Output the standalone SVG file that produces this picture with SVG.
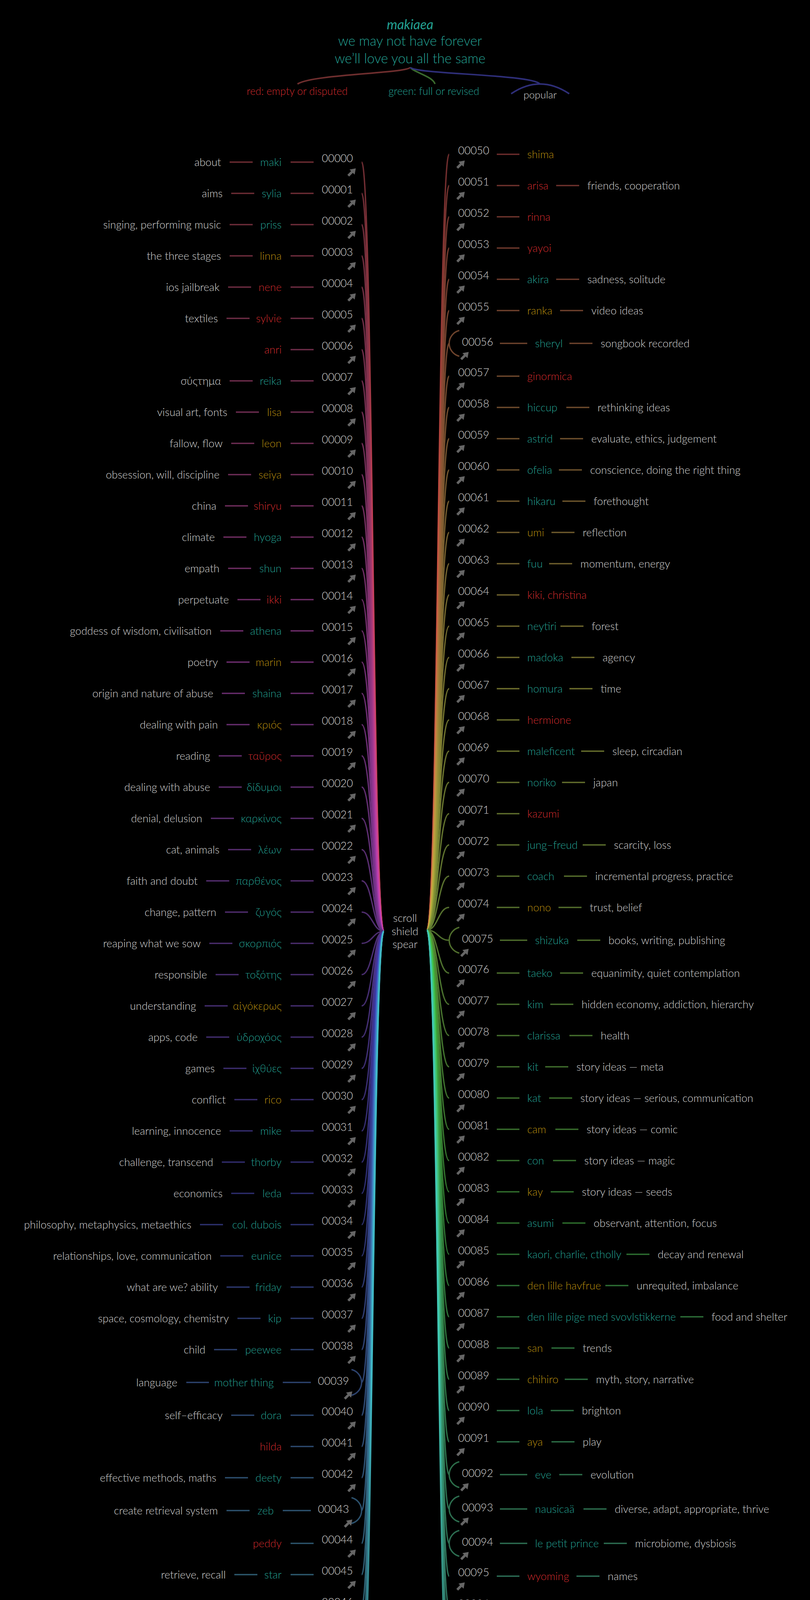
<svg xmlns="http://www.w3.org/2000/svg" xmlns:xlink="http://www.w3.org/1999/xlink" width="2074" height="4856" viewBox="0 0 2074 4856">
<style>
.t{font-family:Lato,"Liberation Sans",sans-serif;font-weight:300;font-size:27.5px}
.num{fill:#d9d9d9}
.desc{fill:#d6d6d6}
.tl{fill:#23a193}
.gd{fill:#b98e0e}
.rd{fill:#d12a2c}
.e{text-anchor:end}
.m{text-anchor:middle}
.dim{fill:#4c5d63}
.cv{fill:none;stroke-width:3.5}
.ds{fill:none;stroke-width:3.5}
.hc{fill:none;stroke-width:4}
.ar{fill:#666}
</style>
<defs>
<symbol id="lnk" viewBox="0 0 24 21"><path class="ar" d="M24 0 L21 16 L16.45 11.45 L7 21 L2.5 16.5 L11.9 6.9 L8 3 Z"/></symbol>
<linearGradient id="a0" gradientUnits="userSpaceOnUse" x1="0" y1="415" x2="0" y2="1215"><stop offset="0" stop-color="hsl(355,42%,30%)"/><stop offset="1" stop-color="hsl(355,55%,52%)"/></linearGradient>
<linearGradient id="a1" gradientUnits="userSpaceOnUse" x1="0" y1="495" x2="0" y2="1295"><stop offset="0" stop-color="hsl(352,42%,30%)"/><stop offset="1" stop-color="hsl(352,55%,52%)"/></linearGradient>
<linearGradient id="a2" gradientUnits="userSpaceOnUse" x1="0" y1="575" x2="0" y2="1375"><stop offset="0" stop-color="hsl(348,42%,30%)"/><stop offset="1" stop-color="hsl(348,55%,52%)"/></linearGradient>
<linearGradient id="a3" gradientUnits="userSpaceOnUse" x1="0" y1="655" x2="0" y2="1455"><stop offset="0" stop-color="hsl(345,42%,30%)"/><stop offset="1" stop-color="hsl(345,55%,52%)"/></linearGradient>
<linearGradient id="a4" gradientUnits="userSpaceOnUse" x1="0" y1="735" x2="0" y2="1535"><stop offset="0" stop-color="hsl(341,42%,30%)"/><stop offset="1" stop-color="hsl(341,55%,52%)"/></linearGradient>
<linearGradient id="a5" gradientUnits="userSpaceOnUse" x1="0" y1="815" x2="0" y2="1615"><stop offset="0" stop-color="hsl(338,42%,30%)"/><stop offset="1" stop-color="hsl(338,55%,52%)"/></linearGradient>
<linearGradient id="a6" gradientUnits="userSpaceOnUse" x1="0" y1="895" x2="0" y2="1695"><stop offset="0" stop-color="hsl(334,42%,30%)"/><stop offset="1" stop-color="hsl(334,55%,52%)"/></linearGradient>
<linearGradient id="a7" gradientUnits="userSpaceOnUse" x1="0" y1="975" x2="0" y2="1775"><stop offset="0" stop-color="hsl(331,42%,30%)"/><stop offset="1" stop-color="hsl(331,55%,52%)"/></linearGradient>
<linearGradient id="a8" gradientUnits="userSpaceOnUse" x1="0" y1="1055" x2="0" y2="1855"><stop offset="0" stop-color="hsl(327,42%,30%)"/><stop offset="1" stop-color="hsl(327,55%,52%)"/></linearGradient>
<linearGradient id="a9" gradientUnits="userSpaceOnUse" x1="0" y1="1135" x2="0" y2="1935"><stop offset="0" stop-color="hsl(324,42%,30%)"/><stop offset="1" stop-color="hsl(324,55%,52%)"/></linearGradient>
<linearGradient id="a10" gradientUnits="userSpaceOnUse" x1="0" y1="1215" x2="0" y2="2015"><stop offset="0" stop-color="hsl(320,42%,30%)"/><stop offset="1" stop-color="hsl(320,55%,52%)"/></linearGradient>
<linearGradient id="a11" gradientUnits="userSpaceOnUse" x1="0" y1="1295" x2="0" y2="2095"><stop offset="0" stop-color="hsl(317,42%,30%)"/><stop offset="1" stop-color="hsl(317,55%,52%)"/></linearGradient>
<linearGradient id="a12" gradientUnits="userSpaceOnUse" x1="0" y1="1375" x2="0" y2="2175"><stop offset="0" stop-color="hsl(313,42%,30%)"/><stop offset="1" stop-color="hsl(313,55%,52%)"/></linearGradient>
<linearGradient id="a13" gradientUnits="userSpaceOnUse" x1="0" y1="1455" x2="0" y2="2255"><stop offset="0" stop-color="hsl(310,42%,30%)"/><stop offset="1" stop-color="hsl(310,55%,52%)"/></linearGradient>
<linearGradient id="a14" gradientUnits="userSpaceOnUse" x1="0" y1="1535" x2="0" y2="2335"><stop offset="0" stop-color="hsl(306,42%,30%)"/><stop offset="1" stop-color="hsl(306,55%,52%)"/></linearGradient>
<linearGradient id="a15" gradientUnits="userSpaceOnUse" x1="0" y1="1615" x2="0" y2="2415"><stop offset="0" stop-color="hsl(303,42%,30%)"/><stop offset="1" stop-color="hsl(303,55%,52%)"/></linearGradient>
<linearGradient id="a16" gradientUnits="userSpaceOnUse" x1="0" y1="1695" x2="0" y2="2495"><stop offset="0" stop-color="hsl(299,42%,30%)"/><stop offset="1" stop-color="hsl(299,55%,52%)"/></linearGradient>
<linearGradient id="a17" gradientUnits="userSpaceOnUse" x1="0" y1="1775" x2="0" y2="2575"><stop offset="0" stop-color="hsl(296,42%,30%)"/><stop offset="1" stop-color="hsl(296,55%,52%)"/></linearGradient>
<linearGradient id="a18" gradientUnits="userSpaceOnUse" x1="0" y1="1855" x2="0" y2="2655"><stop offset="0" stop-color="hsl(293,42%,30%)"/><stop offset="1" stop-color="hsl(293,55%,52%)"/></linearGradient>
<linearGradient id="a19" gradientUnits="userSpaceOnUse" x1="0" y1="1935" x2="0" y2="2735"><stop offset="0" stop-color="hsl(289,42%,30%)"/><stop offset="1" stop-color="hsl(289,55%,52%)"/></linearGradient>
<linearGradient id="a20" gradientUnits="userSpaceOnUse" x1="0" y1="2015" x2="0" y2="2815"><stop offset="0" stop-color="hsl(286,42%,30%)"/><stop offset="1" stop-color="hsl(286,55%,52%)"/></linearGradient>
<linearGradient id="a21" gradientUnits="userSpaceOnUse" x1="0" y1="2095" x2="0" y2="2895"><stop offset="0" stop-color="hsl(282,42%,30%)"/><stop offset="1" stop-color="hsl(282,55%,52%)"/></linearGradient>
<linearGradient id="a22" gradientUnits="userSpaceOnUse" x1="0" y1="2175" x2="0" y2="2975"><stop offset="0" stop-color="hsl(279,42%,30%)"/><stop offset="1" stop-color="hsl(279,55%,52%)"/></linearGradient>
<linearGradient id="a23" gradientUnits="userSpaceOnUse" x1="0" y1="2255" x2="0" y2="3055"><stop offset="0" stop-color="hsl(275,42%,30%)"/><stop offset="1" stop-color="hsl(275,55%,52%)"/></linearGradient>
<linearGradient id="a24" gradientUnits="userSpaceOnUse" x1="0" y1="2335" x2="0" y2="3135"><stop offset="0" stop-color="hsl(272,42%,30%)"/><stop offset="1" stop-color="hsl(272,55%,52%)"/></linearGradient>
<linearGradient id="a25" gradientUnits="userSpaceOnUse" x1="0" y1="2415" x2="0" y2="1615"><stop offset="0" stop-color="hsl(268,42%,30%)"/><stop offset="1" stop-color="hsl(268,55%,52%)"/></linearGradient>
<linearGradient id="a26" gradientUnits="userSpaceOnUse" x1="0" y1="2495" x2="0" y2="1695"><stop offset="0" stop-color="hsl(265,42%,30%)"/><stop offset="1" stop-color="hsl(265,55%,52%)"/></linearGradient>
<linearGradient id="a27" gradientUnits="userSpaceOnUse" x1="0" y1="2575" x2="0" y2="1775"><stop offset="0" stop-color="hsl(261,42%,30%)"/><stop offset="1" stop-color="hsl(261,55%,52%)"/></linearGradient>
<linearGradient id="a28" gradientUnits="userSpaceOnUse" x1="0" y1="2655" x2="0" y2="1855"><stop offset="0" stop-color="hsl(258,42%,30%)"/><stop offset="1" stop-color="hsl(258,55%,52%)"/></linearGradient>
<linearGradient id="a29" gradientUnits="userSpaceOnUse" x1="0" y1="2735" x2="0" y2="1935"><stop offset="0" stop-color="hsl(254,42%,30%)"/><stop offset="1" stop-color="hsl(254,55%,52%)"/></linearGradient>
<linearGradient id="a30" gradientUnits="userSpaceOnUse" x1="0" y1="2815" x2="0" y2="2015"><stop offset="0" stop-color="hsl(251,42%,30%)"/><stop offset="1" stop-color="hsl(251,55%,52%)"/></linearGradient>
<linearGradient id="a31" gradientUnits="userSpaceOnUse" x1="0" y1="2895" x2="0" y2="2095"><stop offset="0" stop-color="hsl(247,42%,30%)"/><stop offset="1" stop-color="hsl(247,55%,52%)"/></linearGradient>
<linearGradient id="a32" gradientUnits="userSpaceOnUse" x1="0" y1="2975" x2="0" y2="2175"><stop offset="0" stop-color="hsl(244,42%,30%)"/><stop offset="1" stop-color="hsl(244,55%,52%)"/></linearGradient>
<linearGradient id="a33" gradientUnits="userSpaceOnUse" x1="0" y1="3055" x2="0" y2="2255"><stop offset="0" stop-color="hsl(240,42%,30%)"/><stop offset="1" stop-color="hsl(240,55%,52%)"/></linearGradient>
<linearGradient id="a34" gradientUnits="userSpaceOnUse" x1="0" y1="3135" x2="0" y2="2335"><stop offset="0" stop-color="hsl(237,42%,30%)"/><stop offset="1" stop-color="hsl(237,55%,52%)"/></linearGradient>
<linearGradient id="a35" gradientUnits="userSpaceOnUse" x1="0" y1="3215" x2="0" y2="2415"><stop offset="0" stop-color="hsl(234,42%,30%)"/><stop offset="1" stop-color="hsl(234,55%,52%)"/></linearGradient>
<linearGradient id="a36" gradientUnits="userSpaceOnUse" x1="0" y1="3295" x2="0" y2="2495"><stop offset="0" stop-color="hsl(230,42%,30%)"/><stop offset="1" stop-color="hsl(230,55%,52%)"/></linearGradient>
<linearGradient id="a37" gradientUnits="userSpaceOnUse" x1="0" y1="3375" x2="0" y2="2575"><stop offset="0" stop-color="hsl(227,42%,30%)"/><stop offset="1" stop-color="hsl(227,55%,52%)"/></linearGradient>
<linearGradient id="a38" gradientUnits="userSpaceOnUse" x1="0" y1="3455" x2="0" y2="2655"><stop offset="0" stop-color="hsl(223,42%,30%)"/><stop offset="1" stop-color="hsl(223,55%,52%)"/></linearGradient>
<linearGradient id="a39" gradientUnits="userSpaceOnUse" x1="0" y1="3539" x2="0" y2="2739"><stop offset="0" stop-color="hsl(220,42%,30%)"/><stop offset="1" stop-color="hsl(220,55%,52%)"/></linearGradient>
<linearGradient id="a40" gradientUnits="userSpaceOnUse" x1="0" y1="3623" x2="0" y2="2823"><stop offset="0" stop-color="hsl(216,42%,30%)"/><stop offset="1" stop-color="hsl(216,55%,52%)"/></linearGradient>
<linearGradient id="a41" gradientUnits="userSpaceOnUse" x1="0" y1="3703" x2="0" y2="2903"><stop offset="0" stop-color="hsl(213,42%,30%)"/><stop offset="1" stop-color="hsl(213,55%,52%)"/></linearGradient>
<linearGradient id="a42" gradientUnits="userSpaceOnUse" x1="0" y1="3783" x2="0" y2="2983"><stop offset="0" stop-color="hsl(209,42%,30%)"/><stop offset="1" stop-color="hsl(209,55%,52%)"/></linearGradient>
<linearGradient id="a43" gradientUnits="userSpaceOnUse" x1="0" y1="3867" x2="0" y2="3067"><stop offset="0" stop-color="hsl(206,42%,30%)"/><stop offset="1" stop-color="hsl(206,55%,52%)"/></linearGradient>
<linearGradient id="a44" gradientUnits="userSpaceOnUse" x1="0" y1="3951" x2="0" y2="3151"><stop offset="0" stop-color="hsl(202,42%,30%)"/><stop offset="1" stop-color="hsl(202,55%,52%)"/></linearGradient>
<linearGradient id="a45" gradientUnits="userSpaceOnUse" x1="0" y1="4031" x2="0" y2="3231"><stop offset="0" stop-color="hsl(199,42%,30%)"/><stop offset="1" stop-color="hsl(199,55%,52%)"/></linearGradient>
<linearGradient id="a46" gradientUnits="userSpaceOnUse" x1="0" y1="4111" x2="0" y2="3311"><stop offset="0" stop-color="hsl(195,42%,30%)"/><stop offset="1" stop-color="hsl(195,55%,52%)"/></linearGradient>
<linearGradient id="a47" gradientUnits="userSpaceOnUse" x1="0" y1="4191" x2="0" y2="3391"><stop offset="0" stop-color="hsl(192,42%,30%)"/><stop offset="1" stop-color="hsl(192,55%,52%)"/></linearGradient>
<linearGradient id="a48" gradientUnits="userSpaceOnUse" x1="0" y1="4271" x2="0" y2="3471"><stop offset="0" stop-color="hsl(188,42%,30%)"/><stop offset="1" stop-color="hsl(188,55%,52%)"/></linearGradient>
<linearGradient id="a49" gradientUnits="userSpaceOnUse" x1="0" y1="4351" x2="0" y2="3551"><stop offset="0" stop-color="hsl(185,42%,30%)"/><stop offset="1" stop-color="hsl(185,55%,52%)"/></linearGradient>
<linearGradient id="b50" gradientUnits="userSpaceOnUse" x1="0" y1="395" x2="0" y2="1195"><stop offset="0" stop-color="hsl(0,42%,30%)"/><stop offset="1" stop-color="hsl(0,55%,52%)"/></linearGradient>
<linearGradient id="b51" gradientUnits="userSpaceOnUse" x1="0" y1="475" x2="0" y2="1275"><stop offset="0" stop-color="hsl(4,42%,30%)"/><stop offset="1" stop-color="hsl(4,55%,52%)"/></linearGradient>
<linearGradient id="b52" gradientUnits="userSpaceOnUse" x1="0" y1="555" x2="0" y2="1355"><stop offset="0" stop-color="hsl(7,42%,30%)"/><stop offset="1" stop-color="hsl(7,55%,52%)"/></linearGradient>
<linearGradient id="b53" gradientUnits="userSpaceOnUse" x1="0" y1="635" x2="0" y2="1435"><stop offset="0" stop-color="hsl(11,42%,30%)"/><stop offset="1" stop-color="hsl(11,55%,52%)"/></linearGradient>
<linearGradient id="b54" gradientUnits="userSpaceOnUse" x1="0" y1="715" x2="0" y2="1515"><stop offset="0" stop-color="hsl(14,42%,30%)"/><stop offset="1" stop-color="hsl(14,55%,52%)"/></linearGradient>
<linearGradient id="b55" gradientUnits="userSpaceOnUse" x1="0" y1="795" x2="0" y2="1595"><stop offset="0" stop-color="hsl(18,42%,30%)"/><stop offset="1" stop-color="hsl(18,55%,52%)"/></linearGradient>
<linearGradient id="b56" gradientUnits="userSpaceOnUse" x1="0" y1="879" x2="0" y2="1679"><stop offset="0" stop-color="hsl(21,42%,30%)"/><stop offset="1" stop-color="hsl(21,55%,52%)"/></linearGradient>
<linearGradient id="b57" gradientUnits="userSpaceOnUse" x1="0" y1="963" x2="0" y2="1763"><stop offset="0" stop-color="hsl(25,42%,30%)"/><stop offset="1" stop-color="hsl(25,55%,52%)"/></linearGradient>
<linearGradient id="b58" gradientUnits="userSpaceOnUse" x1="0" y1="1043" x2="0" y2="1843"><stop offset="0" stop-color="hsl(28,42%,30%)"/><stop offset="1" stop-color="hsl(28,55%,52%)"/></linearGradient>
<linearGradient id="b59" gradientUnits="userSpaceOnUse" x1="0" y1="1123" x2="0" y2="1923"><stop offset="0" stop-color="hsl(32,42%,30%)"/><stop offset="1" stop-color="hsl(32,55%,52%)"/></linearGradient>
<linearGradient id="b60" gradientUnits="userSpaceOnUse" x1="0" y1="1203" x2="0" y2="2003"><stop offset="0" stop-color="hsl(35,42%,30%)"/><stop offset="1" stop-color="hsl(35,55%,52%)"/></linearGradient>
<linearGradient id="b61" gradientUnits="userSpaceOnUse" x1="0" y1="1283" x2="0" y2="2083"><stop offset="0" stop-color="hsl(39,42%,30%)"/><stop offset="1" stop-color="hsl(39,55%,52%)"/></linearGradient>
<linearGradient id="b62" gradientUnits="userSpaceOnUse" x1="0" y1="1363" x2="0" y2="2163"><stop offset="0" stop-color="hsl(42,42%,30%)"/><stop offset="1" stop-color="hsl(42,55%,52%)"/></linearGradient>
<linearGradient id="b63" gradientUnits="userSpaceOnUse" x1="0" y1="1443" x2="0" y2="2243"><stop offset="0" stop-color="hsl(46,42%,30%)"/><stop offset="1" stop-color="hsl(46,55%,52%)"/></linearGradient>
<linearGradient id="b64" gradientUnits="userSpaceOnUse" x1="0" y1="1523" x2="0" y2="2323"><stop offset="0" stop-color="hsl(49,42%,30%)"/><stop offset="1" stop-color="hsl(49,55%,52%)"/></linearGradient>
<linearGradient id="b65" gradientUnits="userSpaceOnUse" x1="0" y1="1603" x2="0" y2="2403"><stop offset="0" stop-color="hsl(53,42%,30%)"/><stop offset="1" stop-color="hsl(53,55%,52%)"/></linearGradient>
<linearGradient id="b66" gradientUnits="userSpaceOnUse" x1="0" y1="1683" x2="0" y2="2483"><stop offset="0" stop-color="hsl(56,42%,30%)"/><stop offset="1" stop-color="hsl(56,55%,52%)"/></linearGradient>
<linearGradient id="b67" gradientUnits="userSpaceOnUse" x1="0" y1="1763" x2="0" y2="2563"><stop offset="0" stop-color="hsl(60,42%,30%)"/><stop offset="1" stop-color="hsl(60,55%,52%)"/></linearGradient>
<linearGradient id="b68" gradientUnits="userSpaceOnUse" x1="0" y1="1843" x2="0" y2="2643"><stop offset="0" stop-color="hsl(63,42%,30%)"/><stop offset="1" stop-color="hsl(63,55%,52%)"/></linearGradient>
<linearGradient id="b69" gradientUnits="userSpaceOnUse" x1="0" y1="1923" x2="0" y2="2723"><stop offset="0" stop-color="hsl(67,42%,30%)"/><stop offset="1" stop-color="hsl(67,55%,52%)"/></linearGradient>
<linearGradient id="b70" gradientUnits="userSpaceOnUse" x1="0" y1="2003" x2="0" y2="2803"><stop offset="0" stop-color="hsl(70,42%,30%)"/><stop offset="1" stop-color="hsl(70,55%,52%)"/></linearGradient>
<linearGradient id="b71" gradientUnits="userSpaceOnUse" x1="0" y1="2083" x2="0" y2="2883"><stop offset="0" stop-color="hsl(74,42%,30%)"/><stop offset="1" stop-color="hsl(74,55%,52%)"/></linearGradient>
<linearGradient id="b72" gradientUnits="userSpaceOnUse" x1="0" y1="2163" x2="0" y2="2963"><stop offset="0" stop-color="hsl(77,42%,30%)"/><stop offset="1" stop-color="hsl(77,55%,52%)"/></linearGradient>
<linearGradient id="b73" gradientUnits="userSpaceOnUse" x1="0" y1="2243" x2="0" y2="3043"><stop offset="0" stop-color="hsl(81,42%,30%)"/><stop offset="1" stop-color="hsl(81,55%,52%)"/></linearGradient>
<linearGradient id="b74" gradientUnits="userSpaceOnUse" x1="0" y1="2323" x2="0" y2="3123"><stop offset="0" stop-color="hsl(84,42%,30%)"/><stop offset="1" stop-color="hsl(84,55%,52%)"/></linearGradient>
<linearGradient id="b75" gradientUnits="userSpaceOnUse" x1="0" y1="2407" x2="0" y2="1607"><stop offset="0" stop-color="hsl(88,42%,30%)"/><stop offset="1" stop-color="hsl(88,55%,52%)"/></linearGradient>
<linearGradient id="b76" gradientUnits="userSpaceOnUse" x1="0" y1="2491" x2="0" y2="1691"><stop offset="0" stop-color="hsl(91,42%,30%)"/><stop offset="1" stop-color="hsl(91,55%,52%)"/></linearGradient>
<linearGradient id="b77" gradientUnits="userSpaceOnUse" x1="0" y1="2571" x2="0" y2="1771"><stop offset="0" stop-color="hsl(95,42%,30%)"/><stop offset="1" stop-color="hsl(95,55%,52%)"/></linearGradient>
<linearGradient id="b78" gradientUnits="userSpaceOnUse" x1="0" y1="2651" x2="0" y2="1851"><stop offset="0" stop-color="hsl(98,42%,30%)"/><stop offset="1" stop-color="hsl(98,55%,52%)"/></linearGradient>
<linearGradient id="b79" gradientUnits="userSpaceOnUse" x1="0" y1="2731" x2="0" y2="1931"><stop offset="0" stop-color="hsl(102,42%,30%)"/><stop offset="1" stop-color="hsl(102,55%,52%)"/></linearGradient>
<linearGradient id="b80" gradientUnits="userSpaceOnUse" x1="0" y1="2811" x2="0" y2="2011"><stop offset="0" stop-color="hsl(105,42%,30%)"/><stop offset="1" stop-color="hsl(105,55%,52%)"/></linearGradient>
<linearGradient id="b81" gradientUnits="userSpaceOnUse" x1="0" y1="2891" x2="0" y2="2091"><stop offset="0" stop-color="hsl(109,42%,30%)"/><stop offset="1" stop-color="hsl(109,55%,52%)"/></linearGradient>
<linearGradient id="b82" gradientUnits="userSpaceOnUse" x1="0" y1="2971" x2="0" y2="2171"><stop offset="0" stop-color="hsl(112,42%,30%)"/><stop offset="1" stop-color="hsl(112,55%,52%)"/></linearGradient>
<linearGradient id="b83" gradientUnits="userSpaceOnUse" x1="0" y1="3051" x2="0" y2="2251"><stop offset="0" stop-color="hsl(116,42%,30%)"/><stop offset="1" stop-color="hsl(116,55%,52%)"/></linearGradient>
<linearGradient id="b84" gradientUnits="userSpaceOnUse" x1="0" y1="3131" x2="0" y2="2331"><stop offset="0" stop-color="hsl(119,42%,30%)"/><stop offset="1" stop-color="hsl(119,55%,52%)"/></linearGradient>
<linearGradient id="b85" gradientUnits="userSpaceOnUse" x1="0" y1="3211" x2="0" y2="2411"><stop offset="0" stop-color="hsl(123,42%,30%)"/><stop offset="1" stop-color="hsl(123,55%,52%)"/></linearGradient>
<linearGradient id="b86" gradientUnits="userSpaceOnUse" x1="0" y1="3291" x2="0" y2="2491"><stop offset="0" stop-color="hsl(126,42%,30%)"/><stop offset="1" stop-color="hsl(126,55%,52%)"/></linearGradient>
<linearGradient id="b87" gradientUnits="userSpaceOnUse" x1="0" y1="3371" x2="0" y2="2571"><stop offset="0" stop-color="hsl(130,42%,30%)"/><stop offset="1" stop-color="hsl(130,55%,52%)"/></linearGradient>
<linearGradient id="b88" gradientUnits="userSpaceOnUse" x1="0" y1="3451" x2="0" y2="2651"><stop offset="0" stop-color="hsl(133,42%,30%)"/><stop offset="1" stop-color="hsl(133,55%,52%)"/></linearGradient>
<linearGradient id="b89" gradientUnits="userSpaceOnUse" x1="0" y1="3531" x2="0" y2="2731"><stop offset="0" stop-color="hsl(137,42%,30%)"/><stop offset="1" stop-color="hsl(137,55%,52%)"/></linearGradient>
<linearGradient id="b90" gradientUnits="userSpaceOnUse" x1="0" y1="3611" x2="0" y2="2811"><stop offset="0" stop-color="hsl(140,42%,30%)"/><stop offset="1" stop-color="hsl(140,55%,52%)"/></linearGradient>
<linearGradient id="b91" gradientUnits="userSpaceOnUse" x1="0" y1="3691" x2="0" y2="2891"><stop offset="0" stop-color="hsl(144,42%,30%)"/><stop offset="1" stop-color="hsl(144,55%,52%)"/></linearGradient>
<linearGradient id="b92" gradientUnits="userSpaceOnUse" x1="0" y1="3775" x2="0" y2="2975"><stop offset="0" stop-color="hsl(147,42%,30%)"/><stop offset="1" stop-color="hsl(147,55%,52%)"/></linearGradient>
<linearGradient id="b93" gradientUnits="userSpaceOnUse" x1="0" y1="3863" x2="0" y2="3063"><stop offset="0" stop-color="hsl(151,42%,30%)"/><stop offset="1" stop-color="hsl(151,55%,52%)"/></linearGradient>
<linearGradient id="b94" gradientUnits="userSpaceOnUse" x1="0" y1="3951" x2="0" y2="3151"><stop offset="0" stop-color="hsl(154,42%,30%)"/><stop offset="1" stop-color="hsl(154,55%,52%)"/></linearGradient>
<linearGradient id="b95" gradientUnits="userSpaceOnUse" x1="0" y1="4035" x2="0" y2="3235"><stop offset="0" stop-color="hsl(158,42%,30%)"/><stop offset="1" stop-color="hsl(158,55%,52%)"/></linearGradient>
<linearGradient id="b96" gradientUnits="userSpaceOnUse" x1="0" y1="4115" x2="0" y2="3315"><stop offset="0" stop-color="hsl(161,42%,30%)"/><stop offset="1" stop-color="hsl(161,55%,52%)"/></linearGradient>
<linearGradient id="b97" gradientUnits="userSpaceOnUse" x1="0" y1="4199" x2="0" y2="3399"><stop offset="0" stop-color="hsl(165,42%,30%)"/><stop offset="1" stop-color="hsl(165,55%,52%)"/></linearGradient>
<linearGradient id="b98" gradientUnits="userSpaceOnUse" x1="0" y1="4283" x2="0" y2="3483"><stop offset="0" stop-color="hsl(168,42%,30%)"/><stop offset="1" stop-color="hsl(168,55%,52%)"/></linearGradient>
<linearGradient id="b99" gradientUnits="userSpaceOnUse" x1="0" y1="4367" x2="0" y2="3567"><stop offset="0" stop-color="hsl(172,42%,30%)"/><stop offset="1" stop-color="hsl(172,55%,52%)"/></linearGradient>
</defs>
<rect x="0" y="0" width="2074" height="4856" fill="#000"/>
<rect x="0" y="4854" width="2074" height="2" fill="#6a6a6a"/>

<g id="connectors">
<path class="hc" stroke="#6e2e2e" d="M1050.7 172.3 C1040 188 800 190 761.7 215"/>
<path class="hc" stroke="#3a6a2e" d="M1050.7 172.3 C1058 185 1108 195 1113.8 215"/>
<path class="hc" stroke="#2e2e78" d="M1050.7 172.3 C1062 190 1360 190 1382.5 215"/>
<path class="hc" stroke="#2e2e78" d="M1308.8 240 Q1382.5 190 1457.5 240"/>
<path class="cv" stroke="url(#a0)" d="M926 415 C954 415 955 2384 983 2384"/>
<path class="cv" stroke="url(#a1)" d="M926 495 C954 495 955 2384 983 2384"/>
<path class="cv" stroke="url(#a2)" d="M926 575 C954 575 955 2384 983 2384"/>
<path class="cv" stroke="url(#a3)" d="M926 655 C954 655 955 2384 983 2384"/>
<path class="cv" stroke="url(#a4)" d="M926 735 C954 735 955 2384 983 2384"/>
<path class="cv" stroke="url(#a5)" d="M926 815 C954 815 955 2384 983 2384"/>
<path class="cv" stroke="url(#a6)" d="M926 895 C954 895 955 2384 983 2384"/>
<path class="cv" stroke="url(#a7)" d="M926 975 C954 975 955 2384 983 2384"/>
<path class="cv" stroke="url(#a8)" d="M926 1055 C954 1055 955 2384 983 2384"/>
<path class="cv" stroke="url(#a9)" d="M926 1135 C954 1135 955 2384 983 2384"/>
<path class="cv" stroke="url(#a10)" d="M926 1215 C954 1215 955 2384 983 2384"/>
<path class="cv" stroke="url(#a11)" d="M926 1295 C954 1295 955 2384 983 2384"/>
<path class="cv" stroke="url(#a12)" d="M926 1375 C954 1375 955 2384 983 2384"/>
<path class="cv" stroke="url(#a13)" d="M926 1455 C954 1455 955 2384 983 2384"/>
<path class="cv" stroke="url(#a14)" d="M926 1535 C954 1535 955 2384 983 2384"/>
<path class="cv" stroke="url(#a15)" d="M926 1615 C954 1615 955 2384 983 2384"/>
<path class="cv" stroke="url(#a16)" d="M926 1695 C954 1695 955 2384 983 2384"/>
<path class="cv" stroke="url(#a17)" d="M926 1775 C954 1775 955 2384 983 2384"/>
<path class="cv" stroke="url(#a18)" d="M926 1855 C954 1855 955 2384 983 2384"/>
<path class="cv" stroke="url(#a19)" d="M926 1935 C954 1935 955 2384 983 2384"/>
<path class="cv" stroke="url(#a20)" d="M926 2015 C954 2015 955 2384 983 2384"/>
<path class="cv" stroke="url(#a21)" d="M926 2095 C954 2095 955 2384 983 2384"/>
<path class="cv" stroke="url(#a22)" d="M926 2175 C954 2175 955 2384 983 2384"/>
<path class="cv" stroke="url(#a23)" d="M926 2255 C954 2255 955 2384 983 2384"/>
<path class="cv" stroke="url(#a24)" d="M926 2335 C954 2335 955 2384 983 2384"/>
<path class="cv" stroke="url(#a25)" d="M926 2415 C954 2415 955 2384 983 2384"/>
<path class="cv" stroke="url(#a26)" d="M926 2495 C954 2495 955 2384 983 2384"/>
<path class="cv" stroke="url(#a27)" d="M926 2575 C954 2575 955 2384 983 2384"/>
<path class="cv" stroke="url(#a28)" d="M926 2655 C954 2655 955 2384 983 2384"/>
<path class="cv" stroke="url(#a29)" d="M926 2735 C954 2735 955 2384 983 2384"/>
<path class="cv" stroke="url(#a30)" d="M926 2815 C954 2815 955 2384 983 2384"/>
<path class="cv" stroke="url(#a31)" d="M926 2895 C954 2895 955 2384 983 2384"/>
<path class="cv" stroke="url(#a32)" d="M926 2975 C954 2975 955 2384 983 2384"/>
<path class="cv" stroke="url(#a33)" d="M926 3055 C954 3055 955 2384 983 2384"/>
<path class="cv" stroke="url(#a34)" d="M926 3135 C954 3135 955 2384 983 2384"/>
<path class="cv" stroke="url(#a35)" d="M926 3215 C954 3215 955 2384 983 2384"/>
<path class="cv" stroke="url(#a36)" d="M926 3295 C954 3295 955 2384 983 2384"/>
<path class="cv" stroke="url(#a37)" d="M926 3375 C954 3375 955 2384 983 2384"/>
<path class="cv" stroke="url(#a38)" d="M926 3455 C954 3455 955 2384 983 2384"/>
<path class="cv" stroke="url(#a39)" d="M926 3539 C954 3539 955 2384 983 2384"/>
<path class="cv" stroke="url(#a40)" d="M926 3623 C954 3623 955 2384 983 2384"/>
<path class="cv" stroke="url(#a41)" d="M926 3703 C954 3703 955 2384 983 2384"/>
<path class="cv" stroke="url(#a42)" d="M926 3783 C954 3783 955 2384 983 2384"/>
<path class="cv" stroke="url(#a43)" d="M926 3867 C954 3867 955 2384 983 2384"/>
<path class="cv" stroke="url(#a44)" d="M926 3951 C954 3951 955 2384 983 2384"/>
<path class="cv" stroke="url(#a45)" d="M926 4031 C954 4031 955 2384 983 2384"/>
<path class="cv" stroke="url(#a46)" d="M926 4111 C954 4111 955 2384 983 2384"/>
<path class="cv" stroke="url(#a47)" d="M926 4191 C954 4191 955 2384 983 2384"/>
<path class="cv" stroke="url(#a48)" d="M926 4271 C954 4271 955 2384 983 2384"/>
<path class="cv" stroke="url(#a49)" d="M926 4351 C954 4351 955 2384 983 2384"/>
<path class="cv" stroke="url(#b50)" d="M1150 395 C1122 395 1121 2381 1093 2381"/>
<path class="cv" stroke="url(#b51)" d="M1150 475 C1122 475 1121 2381 1093 2381"/>
<path class="cv" stroke="url(#b52)" d="M1150 555 C1122 555 1121 2381 1093 2381"/>
<path class="cv" stroke="url(#b53)" d="M1150 635 C1122 635 1121 2381 1093 2381"/>
<path class="cv" stroke="url(#b54)" d="M1150 715 C1122 715 1121 2381 1093 2381"/>
<path class="cv" stroke="url(#b55)" d="M1150 795 C1122 795 1121 2381 1093 2381"/>
<path class="cv" stroke="url(#b56)" d="M1150 879 C1122 879 1121 2381 1093 2381"/>
<path class="cv" stroke="url(#b57)" d="M1150 963 C1122 963 1121 2381 1093 2381"/>
<path class="cv" stroke="url(#b58)" d="M1150 1043 C1122 1043 1121 2381 1093 2381"/>
<path class="cv" stroke="url(#b59)" d="M1150 1123 C1122 1123 1121 2381 1093 2381"/>
<path class="cv" stroke="url(#b60)" d="M1150 1203 C1122 1203 1121 2381 1093 2381"/>
<path class="cv" stroke="url(#b61)" d="M1150 1283 C1122 1283 1121 2381 1093 2381"/>
<path class="cv" stroke="url(#b62)" d="M1150 1363 C1122 1363 1121 2381 1093 2381"/>
<path class="cv" stroke="url(#b63)" d="M1150 1443 C1122 1443 1121 2381 1093 2381"/>
<path class="cv" stroke="url(#b64)" d="M1150 1523 C1122 1523 1121 2381 1093 2381"/>
<path class="cv" stroke="url(#b65)" d="M1150 1603 C1122 1603 1121 2381 1093 2381"/>
<path class="cv" stroke="url(#b66)" d="M1150 1683 C1122 1683 1121 2381 1093 2381"/>
<path class="cv" stroke="url(#b67)" d="M1150 1763 C1122 1763 1121 2381 1093 2381"/>
<path class="cv" stroke="url(#b68)" d="M1150 1843 C1122 1843 1121 2381 1093 2381"/>
<path class="cv" stroke="url(#b69)" d="M1150 1923 C1122 1923 1121 2381 1093 2381"/>
<path class="cv" stroke="url(#b70)" d="M1150 2003 C1122 2003 1121 2381 1093 2381"/>
<path class="cv" stroke="url(#b71)" d="M1150 2083 C1122 2083 1121 2381 1093 2381"/>
<path class="cv" stroke="url(#b72)" d="M1150 2163 C1122 2163 1121 2381 1093 2381"/>
<path class="cv" stroke="url(#b73)" d="M1150 2243 C1122 2243 1121 2381 1093 2381"/>
<path class="cv" stroke="url(#b74)" d="M1150 2323 C1122 2323 1121 2381 1093 2381"/>
<path class="cv" stroke="url(#b75)" d="M1150 2407 C1122 2407 1121 2381 1093 2381"/>
<path class="cv" stroke="url(#b76)" d="M1150 2491 C1122 2491 1121 2381 1093 2381"/>
<path class="cv" stroke="url(#b77)" d="M1150 2571 C1122 2571 1121 2381 1093 2381"/>
<path class="cv" stroke="url(#b78)" d="M1150 2651 C1122 2651 1121 2381 1093 2381"/>
<path class="cv" stroke="url(#b79)" d="M1150 2731 C1122 2731 1121 2381 1093 2381"/>
<path class="cv" stroke="url(#b80)" d="M1150 2811 C1122 2811 1121 2381 1093 2381"/>
<path class="cv" stroke="url(#b81)" d="M1150 2891 C1122 2891 1121 2381 1093 2381"/>
<path class="cv" stroke="url(#b82)" d="M1150 2971 C1122 2971 1121 2381 1093 2381"/>
<path class="cv" stroke="url(#b83)" d="M1150 3051 C1122 3051 1121 2381 1093 2381"/>
<path class="cv" stroke="url(#b84)" d="M1150 3131 C1122 3131 1121 2381 1093 2381"/>
<path class="cv" stroke="url(#b85)" d="M1150 3211 C1122 3211 1121 2381 1093 2381"/>
<path class="cv" stroke="url(#b86)" d="M1150 3291 C1122 3291 1121 2381 1093 2381"/>
<path class="cv" stroke="url(#b87)" d="M1150 3371 C1122 3371 1121 2381 1093 2381"/>
<path class="cv" stroke="url(#b88)" d="M1150 3451 C1122 3451 1121 2381 1093 2381"/>
<path class="cv" stroke="url(#b89)" d="M1150 3531 C1122 3531 1121 2381 1093 2381"/>
<path class="cv" stroke="url(#b90)" d="M1150 3611 C1122 3611 1121 2381 1093 2381"/>
<path class="cv" stroke="url(#b91)" d="M1150 3691 C1122 3691 1121 2381 1093 2381"/>
<path class="cv" stroke="url(#b92)" d="M1150 3775 C1122 3775 1121 2381 1093 2381"/>
<path class="cv" stroke="url(#b93)" d="M1150 3863 C1122 3863 1121 2381 1093 2381"/>
<path class="cv" stroke="url(#b94)" d="M1150 3951 C1122 3951 1121 2381 1093 2381"/>
<path class="cv" stroke="url(#b95)" d="M1150 4035 C1122 4035 1121 2381 1093 2381"/>
<path class="cv" stroke="url(#b96)" d="M1150 4115 C1122 4115 1121 2381 1093 2381"/>
<path class="cv" stroke="url(#b97)" d="M1150 4199 C1122 4199 1121 2381 1093 2381"/>
<path class="cv" stroke="url(#b98)" d="M1150 4283 C1122 4283 1121 2381 1093 2381"/>
<path class="cv" stroke="url(#b99)" d="M1150 4367 C1122 4367 1121 2381 1093 2381"/>

<path class="ds" stroke="hsl(355,42%,30%)" d="M744 415H803M588 415H647"/>
<path class="ds" stroke="hsl(352,42%,30%)" d="M744 495H803M592 495H651"/>
<path class="ds" stroke="hsl(348,42%,30%)" d="M744 575H803M588 575H647"/>
<path class="ds" stroke="hsl(345,42%,30%)" d="M744 655H803M588 655H647"/>
<path class="ds" stroke="hsl(341,42%,30%)" d="M744 735H803M584 735H643"/>
<path class="ds" stroke="hsl(338,42%,30%)" d="M744 815H803M580 815H639"/>
<path class="ds" stroke="hsl(334,42%,30%)" d="M744 895H803"/>
<path class="ds" stroke="hsl(331,42%,30%)" d="M744 975H803M588 975H647"/>
<path class="ds" stroke="hsl(327,42%,30%)" d="M744 1055H803M604 1055H663"/>
<path class="ds" stroke="hsl(324,42%,30%)" d="M744 1135H803M592 1135H651"/>
<path class="ds" stroke="hsl(320,42%,30%)" d="M744 1215H803M584 1215H643"/>
<path class="ds" stroke="hsl(317,42%,30%)" d="M744 1295H803M576 1295H635"/>
<path class="ds" stroke="hsl(313,42%,30%)" d="M744 1375H803M572 1375H631"/>
<path class="ds" stroke="hsl(310,42%,30%)" d="M744 1455H803M584 1455H643"/>
<path class="ds" stroke="hsl(306,42%,30%)" d="M744 1535H803M608 1535H667"/>
<path class="ds" stroke="hsl(303,42%,30%)" d="M744 1615H803M564 1615H623"/>
<path class="ds" stroke="hsl(299,42%,30%)" d="M744 1695H803M580 1695H639"/>
<path class="ds" stroke="hsl(296,42%,30%)" d="M744 1775H803M568 1775H627"/>
<path class="ds" stroke="hsl(293,42%,30%)" d="M744 1855H803M580 1855H639"/>
<path class="ds" stroke="hsl(289,42%,30%)" d="M744 1935H803M560 1935H619"/>
<path class="ds" stroke="hsl(286,42%,30%)" d="M744 2015H803M560 2015H619"/>
<path class="ds" stroke="hsl(282,42%,30%)" d="M744 2095H803M540 2095H599"/>
<path class="ds" stroke="hsl(279,42%,30%)" d="M744 2175H803M584 2175H643"/>
<path class="ds" stroke="hsl(275,42%,30%)" d="M744 2255H803M528 2255H587"/>
<path class="ds" stroke="hsl(272,42%,30%)" d="M744 2335H803M576 2335H635"/>
<path class="ds" stroke="hsl(268,42%,30%)" d="M744 2415H803M536 2415H595"/>
<path class="ds" stroke="hsl(265,42%,30%)" d="M744 2495H803M552 2495H611"/>
<path class="ds" stroke="hsl(261,42%,30%)" d="M744 2575H803M524 2575H583"/>
<path class="ds" stroke="hsl(258,42%,30%)" d="M744 2655H803M528 2655H587"/>
<path class="ds" stroke="hsl(254,42%,30%)" d="M744 2735H803M572 2735H631"/>
<path class="ds" stroke="hsl(251,42%,30%)" d="M744 2815H803M600 2815H659"/>
<path class="ds" stroke="hsl(247,42%,30%)" d="M744 2895H803M588 2895H647"/>
<path class="ds" stroke="hsl(244,42%,30%)" d="M744 2975H803M568 2975H627"/>
<path class="ds" stroke="hsl(240,42%,30%)" d="M744 3055H803M592 3055H651"/>
<path class="ds" stroke="hsl(237,42%,30%)" d="M744 3135H803M512 3135H571"/>
<path class="ds" stroke="hsl(234,42%,30%)" d="M744 3215H803M564 3215H623"/>
<path class="ds" stroke="hsl(230,42%,30%)" d="M744 3295H803M580 3295H639"/>
<path class="ds" stroke="hsl(227,42%,30%)" d="M744 3375H803M608 3375H667"/>
<path class="ds" stroke="hsl(223,42%,30%)" d="M744 3455H803M548 3455H607"/>
<path class="ds" stroke="hsl(220,42%,30%)" d="M724 3539H796M477 3539H535M900 3506A34 34 0 0 1 900 3572"/>
<path class="ds" stroke="hsl(216,42%,30%)" d="M744 3623H803M592 3623H651"/>
<path class="ds" stroke="hsl(213,42%,30%)" d="M744 3703H803"/>
<path class="ds" stroke="hsl(209,42%,30%)" d="M744 3783H803M576 3783H635"/>
<path class="ds" stroke="hsl(206,42%,30%)" d="M724 3867H796M580 3867H639M900 3834A34 34 0 0 1 900 3900"/>
<path class="ds" stroke="hsl(202,42%,30%)" d="M744 3951H803"/>
<path class="ds" stroke="hsl(199,42%,30%)" d="M744 4031H803M600 4031H659"/>
<path class="ds" stroke="hsl(195,42%,30%)" d="M744 4111H803"/>
<path class="ds" stroke="hsl(192,42%,30%)" d="M744 4191H803M524 4191H583"/>
<path class="ds" stroke="hsl(188,42%,30%)" d="M744 4271H803"/>
<path class="ds" stroke="hsl(185,42%,30%)" d="M744 4351H803M572 4351H631"/>

<path class="ds" stroke="hsl(0,42%,30%)" d="M1272 395H1330"/>
<path class="ds" stroke="hsl(4,42%,30%)" d="M1272 475H1330M1424 475H1483"/>
<path class="ds" stroke="hsl(7,42%,30%)" d="M1272 555H1330"/>
<path class="ds" stroke="hsl(11,42%,30%)" d="M1272 635H1330"/>
<path class="ds" stroke="hsl(14,42%,30%)" d="M1272 715H1330M1424 715H1483"/>
<path class="ds" stroke="hsl(18,42%,30%)" d="M1272 795H1330M1434 795H1493"/>
<path class="ds" stroke="hsl(21,42%,30%)" d="M1280 879H1350M1458 879H1517M1176 846A34 34 0 0 0 1176 912"/>
<path class="ds" stroke="hsl(25,42%,30%)" d="M1272 963H1330"/>
<path class="ds" stroke="hsl(28,42%,30%)" d="M1272 1043H1330M1450 1043H1509"/>
<path class="ds" stroke="hsl(32,42%,30%)" d="M1272 1123H1330M1434 1123H1493"/>
<path class="ds" stroke="hsl(35,42%,30%)" d="M1272 1203H1330M1431 1203H1490"/>
<path class="ds" stroke="hsl(39,42%,30%)" d="M1272 1283H1330M1440 1283H1499"/>
<path class="ds" stroke="hsl(42,42%,30%)" d="M1272 1363H1330M1412 1363H1471"/>
<path class="ds" stroke="hsl(46,42%,30%)" d="M1272 1443H1330M1406 1443H1465"/>
<path class="ds" stroke="hsl(49,42%,30%)" d="M1272 1523H1330"/>
<path class="ds" stroke="hsl(53,42%,30%)" d="M1272 1603H1330M1435 1603H1494"/>
<path class="ds" stroke="hsl(56,42%,30%)" d="M1272 1683H1330M1463 1683H1522"/>
<path class="ds" stroke="hsl(60,42%,30%)" d="M1272 1763H1330M1458 1763H1517"/>
<path class="ds" stroke="hsl(63,42%,30%)" d="M1272 1843H1330"/>
<path class="ds" stroke="hsl(67,42%,30%)" d="M1272 1923H1330M1488 1923H1547"/>
<path class="ds" stroke="hsl(70,42%,30%)" d="M1272 2003H1330M1439 2003H1498"/>
<path class="ds" stroke="hsl(74,42%,30%)" d="M1272 2083H1330"/>
<path class="ds" stroke="hsl(77,42%,30%)" d="M1272 2163H1330M1492 2163H1551"/>
<path class="ds" stroke="hsl(81,42%,30%)" d="M1272 2243H1330M1444 2243H1503"/>
<path class="ds" stroke="hsl(84,42%,30%)" d="M1272 2323H1330M1430 2323H1489"/>
<path class="ds" stroke="hsl(88,42%,30%)" d="M1280 2407H1350M1478 2407H1537M1176 2374A34 34 0 0 0 1176 2440"/>
<path class="ds" stroke="hsl(91,42%,30%)" d="M1272 2491H1330M1434 2491H1493"/>
<path class="ds" stroke="hsl(95,42%,30%)" d="M1272 2571H1330M1409 2571H1468"/>
<path class="ds" stroke="hsl(98,42%,30%)" d="M1272 2651H1330M1458 2651H1517"/>
<path class="ds" stroke="hsl(102,42%,30%)" d="M1272 2731H1330M1396 2731H1455"/>
<path class="ds" stroke="hsl(105,42%,30%)" d="M1272 2811H1330M1406 2811H1465"/>
<path class="ds" stroke="hsl(109,42%,30%)" d="M1272 2891H1330M1422 2891H1481"/>
<path class="ds" stroke="hsl(112,42%,30%)" d="M1272 2971H1330M1416 2971H1475"/>
<path class="ds" stroke="hsl(116,42%,30%)" d="M1272 3051H1330M1410 3051H1469"/>
<path class="ds" stroke="hsl(119,42%,30%)" d="M1272 3131H1330M1440 3131H1499"/>
<path class="ds" stroke="hsl(123,42%,30%)" d="M1272 3211H1330M1604 3211H1663"/>
<path class="ds" stroke="hsl(126,42%,30%)" d="M1272 3291H1330M1550 3291H1609"/>
<path class="ds" stroke="hsl(130,42%,30%)" d="M1272 3371H1330M1742 3371H1801"/>
<path class="ds" stroke="hsl(133,42%,30%)" d="M1272 3451H1330M1412 3451H1471"/>
<path class="ds" stroke="hsl(137,42%,30%)" d="M1272 3531H1330M1446 3531H1505"/>
<path class="ds" stroke="hsl(140,42%,30%)" d="M1272 3611H1330M1410 3611H1469"/>
<path class="ds" stroke="hsl(144,42%,30%)" d="M1272 3691H1330M1412 3691H1471"/>
<path class="ds" stroke="hsl(147,42%,30%)" d="M1280 3775H1350M1432 3775H1491M1176 3742A34 34 0 0 0 1176 3808"/>
<path class="ds" stroke="hsl(151,42%,30%)" d="M1280 3863H1350M1494 3863H1553M1176 3830A34 34 0 0 0 1176 3896"/>
<path class="ds" stroke="hsl(154,42%,30%)" d="M1280 3951H1350M1546 3951H1605M1176 3918A34 34 0 0 0 1176 3984"/>
<path class="ds" stroke="hsl(158,42%,30%)" d="M1272 4035H1330M1476 4035H1535"/>
<path class="ds" stroke="hsl(161,42%,30%)" d="M1272 4115H1330M1535 4115H1594"/>
<path class="ds" stroke="hsl(165,42%,30%)" d="M1280 4199H1350M1446 4199H1505M1176 4166A34 34 0 0 0 1176 4232"/>
<path class="ds" stroke="hsl(168,42%,30%)" d="M1272 4283H1330"/>
<path class="ds" stroke="hsl(172,42%,30%)" d="M1280 4367H1350M1431 4367H1490M1176 4334A34 34 0 0 0 1176 4400"/>

<path class="ds" stroke="#6e2e2e" d="M1315 4480H1372M1461 4480H1521"/>
<path class="ds" stroke="#6e2e33" d="M550 4625C578 4625 577 4505 605 4505"/>
<path class="ds" stroke="#4f6a2c" d="M550 4625C578 4625 577 4614 605 4614"/>
<path class="ds" stroke="#2a6a6a" d="M550 4625C578 4625 577 4704 605 4704"/>
<path class="ds" stroke="#4a2e7a" d="M550 4625C578 4625 577 4796 605 4796"/>
<path class="ds" stroke="#2a6a6a" d="M695 4704C725 4704 724 4675 754 4675M695 4704C725 4704 724 4735 754 4735"/>
</g>

<g id="title">
<text class="t tl m" x="1050" y="75" style="font-style:italic;font-weight:400;font-size:34px">makiaea</text>
<text class="t tl m" x="1050" y="117" style="font-size:34.5px">we may not have forever</text>
<text class="t tl m" x="1050" y="162" style="font-size:34.5px">we’ll love you all the same</text>
</g>
<g id="legend-red"><text class="t rd m" x="761" y="243" style="font-size:26.5px">red: empty or disputed</text></g>
<g id="legend-green"><text class="t tl m" x="1111" y="243" style="font-size:26.5px">green: full or revised</text></g>
<g id="legend-popular"><text class="t desc m" x="1383" y="252" style="font-size:26px">popular</text></g>

<g id="center">
<text class="t desc m" x="1037" y="2360">scroll</text>
<text class="t desc m" x="1037" y="2394">shield</text>
<text class="t desc m" x="1037" y="2427">spear</text>
</g>

<g id="n00"><text class="t num" x="824" y="415">00000</text><use href="#lnk" x="887" y="431" width="24" height="21"/></g>
<g id="n00-name"><text class="t e tl" x="721" y="425">maki</text></g>
<g id="n00-desc"><text class="t e desc" x="566" y="425">about</text></g>
<g id="n01"><text class="t num" x="824" y="495">00001</text><use href="#lnk" x="887" y="511" width="24" height="21"/></g>
<g id="n01-name"><text class="t e tl" x="721" y="505">sylia</text></g>
<g id="n01-desc"><text class="t e desc" x="570" y="505">aims</text></g>
<g id="n02"><text class="t num" x="824" y="575">00002</text><use href="#lnk" x="887" y="591" width="24" height="21"/></g>
<g id="n02-name"><text class="t e tl" x="721" y="585">priss</text></g>
<g id="n02-desc"><text class="t e desc" x="566" y="585">singing, performing music</text></g>
<g id="n03"><text class="t num" x="824" y="655">00003</text><use href="#lnk" x="887" y="671" width="24" height="21"/></g>
<g id="n03-name"><text class="t e gd" x="721" y="665">linna</text></g>
<g id="n03-desc"><text class="t e desc" x="566" y="665">the three stages</text></g>
<g id="n04"><text class="t num" x="824" y="735">00004</text><use href="#lnk" x="887" y="751" width="24" height="21"/></g>
<g id="n04-name"><text class="t e rd" x="721" y="745">nene</text></g>
<g id="n04-desc"><text class="t e desc" x="562" y="745">ios jailbreak</text></g>
<g id="n05"><text class="t num" x="824" y="815">00005</text><use href="#lnk" x="887" y="831" width="24" height="21"/></g>
<g id="n05-name"><text class="t e rd" x="721" y="825">sylvie</text></g>
<g id="n05-desc"><text class="t e desc" x="558" y="825">textiles</text></g>
<g id="n06"><text class="t num" x="824" y="895">00006</text><use href="#lnk" x="887" y="911" width="24" height="21"/></g>
<g id="n06-name"><text class="t e rd" x="721" y="905">anri</text></g>
<g id="n07"><text class="t num" x="824" y="975">00007</text><use href="#lnk" x="887" y="991" width="24" height="21"/></g>
<g id="n07-name"><text class="t e tl" x="721" y="985">reika</text></g>
<g id="n07-desc"><text class="t e desc" x="566" y="985">σύςτημα</text></g>
<g id="n08"><text class="t num" x="824" y="1055">00008</text><use href="#lnk" x="887" y="1071" width="24" height="21"/></g>
<g id="n08-name"><text class="t e gd" x="721" y="1065">lisa</text></g>
<g id="n08-desc"><text class="t e desc" x="582" y="1065">visual art, fonts</text></g>
<g id="n09"><text class="t num" x="824" y="1135">00009</text><use href="#lnk" x="887" y="1151" width="24" height="21"/></g>
<g id="n09-name"><text class="t e gd" x="721" y="1145">leon</text></g>
<g id="n09-desc"><text class="t e desc" x="570" y="1145">fallow, flow</text></g>
<g id="n10"><text class="t num" x="824" y="1215">00010</text><use href="#lnk" x="887" y="1231" width="24" height="21"/></g>
<g id="n10-name"><text class="t e gd" x="721" y="1225">seiya</text></g>
<g id="n10-desc"><text class="t e desc" x="562" y="1225">obsession, will, discipline</text></g>
<g id="n11"><text class="t num" x="824" y="1295">00011</text><use href="#lnk" x="887" y="1311" width="24" height="21"/></g>
<g id="n11-name"><text class="t e rd" x="721" y="1305">shiryu</text></g>
<g id="n11-desc"><text class="t e desc" x="554" y="1305">china</text></g>
<g id="n12"><text class="t num" x="824" y="1375">00012</text><use href="#lnk" x="887" y="1391" width="24" height="21"/></g>
<g id="n12-name"><text class="t e tl" x="721" y="1385">hyoga</text></g>
<g id="n12-desc"><text class="t e desc" x="550" y="1385">climate</text></g>
<g id="n13"><text class="t num" x="824" y="1455">00013</text><use href="#lnk" x="887" y="1471" width="24" height="21"/></g>
<g id="n13-name"><text class="t e tl" x="721" y="1465">shun</text></g>
<g id="n13-desc"><text class="t e desc" x="562" y="1465">empath</text></g>
<g id="n14"><text class="t num" x="824" y="1535">00014</text><use href="#lnk" x="887" y="1551" width="24" height="21"/></g>
<g id="n14-name"><text class="t e rd" x="721" y="1545">ikki</text></g>
<g id="n14-desc"><text class="t e desc" x="586" y="1545">perpetuate</text></g>
<g id="n15"><text class="t num" x="824" y="1615">00015</text><use href="#lnk" x="887" y="1631" width="24" height="21"/></g>
<g id="n15-name"><text class="t e tl" x="721" y="1625">athena</text></g>
<g id="n15-desc"><text class="t e desc" x="542" y="1625">goddess of wisdom, civilisation</text></g>
<g id="n16"><text class="t num" x="824" y="1695">00016</text><use href="#lnk" x="887" y="1711" width="24" height="21"/></g>
<g id="n16-name"><text class="t e gd" x="721" y="1705">marin</text></g>
<g id="n16-desc"><text class="t e desc" x="558" y="1705">poetry</text></g>
<g id="n17"><text class="t num" x="824" y="1775">00017</text><use href="#lnk" x="887" y="1791" width="24" height="21"/></g>
<g id="n17-name"><text class="t e tl" x="721" y="1785">shaina</text></g>
<g id="n17-desc"><text class="t e desc" x="546" y="1785">origin and nature of abuse</text></g>
<g id="n18"><text class="t num" x="824" y="1855">00018</text><use href="#lnk" x="887" y="1871" width="24" height="21"/></g>
<g id="n18-name"><text class="t e gd" x="721" y="1865">κριός</text></g>
<g id="n18-desc"><text class="t e desc" x="558" y="1865">dealing with pain</text></g>
<g id="n19"><text class="t num" x="824" y="1935">00019</text><use href="#lnk" x="887" y="1951" width="24" height="21"/></g>
<g id="n19-name"><text class="t e rd" x="721" y="1945">ταῦρος</text></g>
<g id="n19-desc"><text class="t e desc" x="538" y="1945">reading</text></g>
<g id="n20"><text class="t num" x="824" y="2015">00020</text><use href="#lnk" x="887" y="2031" width="24" height="21"/></g>
<g id="n20-name"><text class="t e tl" x="721" y="2025">δίδυμοι</text></g>
<g id="n20-desc"><text class="t e desc" x="538" y="2025">dealing with abuse</text></g>
<g id="n21"><text class="t num" x="824" y="2095">00021</text><use href="#lnk" x="887" y="2111" width="24" height="21"/></g>
<g id="n21-name"><text class="t e tl" x="721" y="2105">καρκίνος</text></g>
<g id="n21-desc"><text class="t e desc" x="518" y="2105">denial, delusion</text></g>
<g id="n22"><text class="t num" x="824" y="2175">00022</text><use href="#lnk" x="887" y="2191" width="24" height="21"/></g>
<g id="n22-name"><text class="t e tl" x="721" y="2185">λέων</text></g>
<g id="n22-desc"><text class="t e desc" x="562" y="2185">cat, animals</text></g>
<g id="n23"><text class="t num" x="824" y="2255">00023</text><use href="#lnk" x="887" y="2271" width="24" height="21"/></g>
<g id="n23-name"><text class="t e tl" x="721" y="2265">παρθένος</text></g>
<g id="n23-desc"><text class="t e desc" x="506" y="2265">faith and doubt</text></g>
<g id="n24"><text class="t num" x="824" y="2335">00024</text><use href="#lnk" x="887" y="2351" width="24" height="21"/></g>
<g id="n24-name"><text class="t e tl" x="721" y="2345">ζυγός</text></g>
<g id="n24-desc"><text class="t e desc" x="554" y="2345">change, pattern</text></g>
<g id="n25"><text class="t num" x="824" y="2415">00025</text><use href="#lnk" x="887" y="2431" width="24" height="21"/></g>
<g id="n25-name"><text class="t e tl" x="721" y="2425">σκορπιός</text></g>
<g id="n25-desc"><text class="t e desc" x="514" y="2425">reaping what we sow</text></g>
<g id="n26"><text class="t num" x="824" y="2495">00026</text><use href="#lnk" x="887" y="2511" width="24" height="21"/></g>
<g id="n26-name"><text class="t e tl" x="721" y="2505">τοξότης</text></g>
<g id="n26-desc"><text class="t e desc" x="530" y="2505">responsible</text></g>
<g id="n27"><text class="t num" x="824" y="2575">00027</text><use href="#lnk" x="887" y="2591" width="24" height="21"/></g>
<g id="n27-name"><text class="t e gd" x="721" y="2585">αἰγόκερως</text></g>
<g id="n27-desc"><text class="t e desc" x="502" y="2585">understanding</text></g>
<g id="n28"><text class="t num" x="824" y="2655">00028</text><use href="#lnk" x="887" y="2671" width="24" height="21"/></g>
<g id="n28-name"><text class="t e tl" x="721" y="2665">ὑδροχόος</text></g>
<g id="n28-desc"><text class="t e desc" x="506" y="2665">apps, code</text></g>
<g id="n29"><text class="t num" x="824" y="2735">00029</text><use href="#lnk" x="887" y="2751" width="24" height="21"/></g>
<g id="n29-name"><text class="t e tl" x="721" y="2745">ἰχθύες</text></g>
<g id="n29-desc"><text class="t e desc" x="550" y="2745">games</text></g>
<g id="n30"><text class="t num" x="824" y="2815">00030</text><use href="#lnk" x="887" y="2831" width="24" height="21"/></g>
<g id="n30-name"><text class="t e gd" x="721" y="2825">rico</text></g>
<g id="n30-desc"><text class="t e desc" x="578" y="2825">conflict</text></g>
<g id="n31"><text class="t num" x="824" y="2895">00031</text><use href="#lnk" x="887" y="2911" width="24" height="21"/></g>
<g id="n31-name"><text class="t e tl" x="721" y="2905">mike</text></g>
<g id="n31-desc"><text class="t e desc" x="566" y="2905">learning, innocence</text></g>
<g id="n32"><text class="t num" x="824" y="2975">00032</text><use href="#lnk" x="887" y="2991" width="24" height="21"/></g>
<g id="n32-name"><text class="t e tl" x="721" y="2985">thorby</text></g>
<g id="n32-desc"><text class="t e desc" x="546" y="2985">challenge, transcend</text></g>
<g id="n33"><text class="t num" x="824" y="3055">00033</text><use href="#lnk" x="887" y="3071" width="24" height="21"/></g>
<g id="n33-name"><text class="t e tl" x="721" y="3065">leda</text></g>
<g id="n33-desc"><text class="t e desc" x="570" y="3065">economics</text></g>
<g id="n34"><text class="t num" x="824" y="3135">00034</text><use href="#lnk" x="887" y="3151" width="24" height="21"/></g>
<g id="n34-name"><text class="t e tl" x="721" y="3145">col. dubois</text></g>
<g id="n34-desc"><text class="t e desc" x="490" y="3145">philosophy, metaphysics, metaethics</text></g>
<g id="n35"><text class="t num" x="824" y="3215">00035</text><use href="#lnk" x="887" y="3231" width="24" height="21"/></g>
<g id="n35-name"><text class="t e tl" x="721" y="3225">eunice</text></g>
<g id="n35-desc"><text class="t e desc" x="542" y="3225">relationships, love, communication</text></g>
<g id="n36"><text class="t num" x="824" y="3295">00036</text><use href="#lnk" x="887" y="3311" width="24" height="21"/></g>
<g id="n36-name"><text class="t e tl" x="721" y="3305">friday</text></g>
<g id="n36-desc"><text class="t e desc" x="558" y="3305">what are we? ability</text></g>
<g id="n37"><text class="t num" x="824" y="3375">00037</text><use href="#lnk" x="887" y="3391" width="24" height="21"/></g>
<g id="n37-name"><text class="t e tl" x="721" y="3385">kip</text></g>
<g id="n37-desc"><text class="t e desc" x="586" y="3385">space, cosmology, chemistry</text></g>
<g id="n38"><text class="t num" x="824" y="3455">00038</text><use href="#lnk" x="887" y="3471" width="24" height="21"/></g>
<g id="n38-name"><text class="t e tl" x="721" y="3465">peewee</text></g>
<g id="n38-desc"><text class="t e desc" x="526" y="3465">child</text></g>
<g id="n39"><text class="t num" x="814" y="3545">00039</text><use href="#lnk" x="878" y="3562" width="24" height="21"/></g>
<g id="n39-name"><text class="t e tl" x="701" y="3549">mother thing</text></g>
<g id="n39-desc"><text class="t e desc" x="454" y="3549">language</text></g>
<g id="n40"><text class="t num" x="824" y="3623">00040</text><use href="#lnk" x="887" y="3639" width="24" height="21"/></g>
<g id="n40-name"><text class="t e tl" x="721" y="3633">dora</text></g>
<g id="n40-desc"><text class="t e desc" x="570" y="3633">self–efficacy</text></g>
<g id="n41"><text class="t num" x="824" y="3703">00041</text><use href="#lnk" x="887" y="3719" width="24" height="21"/></g>
<g id="n41-name"><text class="t e rd" x="721" y="3713">hilda</text></g>
<g id="n42"><text class="t num" x="824" y="3783">00042</text><use href="#lnk" x="887" y="3799" width="24" height="21"/></g>
<g id="n42-name"><text class="t e tl" x="721" y="3793">deety</text></g>
<g id="n42-desc"><text class="t e desc" x="554" y="3793">effective methods, maths</text></g>
<g id="n43"><text class="t num" x="814" y="3873">00043</text><use href="#lnk" x="878" y="3890" width="24" height="21"/></g>
<g id="n43-name"><text class="t e tl" x="701" y="3877">zeb</text></g>
<g id="n43-desc"><text class="t e desc" x="558" y="3877">create retrieval system</text></g>
<g id="n44"><text class="t num" x="824" y="3951">00044</text><use href="#lnk" x="887" y="3967" width="24" height="21"/></g>
<g id="n44-name"><text class="t e rd" x="721" y="3961">peddy</text></g>
<g id="n45"><text class="t num" x="824" y="4031">00045</text><use href="#lnk" x="887" y="4047" width="24" height="21"/></g>
<g id="n45-name"><text class="t e tl" x="721" y="4041">star</text></g>
<g id="n45-desc"><text class="t e desc" x="578" y="4041">retrieve, recall</text></g>
<g id="n46"><text class="t num" x="824" y="4111">00046</text><use href="#lnk" x="887" y="4127" width="24" height="21"/></g>
<g id="n46-name"><text class="t e rd" x="721" y="4121">ricky</text></g>
<g id="n47"><text class="t num" x="824" y="4191">00047</text><use href="#lnk" x="887" y="4207" width="24" height="21"/></g>
<g id="n47-name"><text class="t e tl" x="721" y="4201">margrethe</text></g>
<g id="n47-desc"><text class="t e desc" x="502" y="4201">causality, appeal to a highest truth</text></g>
<g id="n48"><text class="t num" x="824" y="4271">00048</text><use href="#lnk" x="887" y="4287" width="24" height="21"/></g>
<g id="n48-name"><text class="t e rd" x="721" y="4281">hazel</text></g>
<g id="n49"><text class="t num" x="824" y="4351">00049</text><use href="#lnk" x="887" y="4367" width="24" height="21"/></g>
<g id="n49-name"><text class="t e tl" x="721" y="4361">candy</text></g>
<g id="n49-desc"><text class="t e desc" x="550" y="4361">perceive, detect, instinct</text></g>

<g id="n50"><text class="t num" x="1173" y="395">00050</text><use href="#lnk" x="1166" y="411" width="24" height="21"/></g>
<g id="n50-name"><text class="t gd" x="1350" y="405">shima</text></g>
<g id="n51"><text class="t num" x="1173" y="475">00051</text><use href="#lnk" x="1166" y="491" width="24" height="21"/></g>
<g id="n51-name"><text class="t rd" x="1350" y="485">arisa</text></g>
<g id="n51-desc"><text class="t desc" x="1504" y="485">friends, cooperation</text></g>
<g id="n52"><text class="t num" x="1173" y="555">00052</text><use href="#lnk" x="1166" y="571" width="24" height="21"/></g>
<g id="n52-name"><text class="t rd" x="1350" y="565">rinna</text></g>
<g id="n53"><text class="t num" x="1173" y="635">00053</text><use href="#lnk" x="1166" y="651" width="24" height="21"/></g>
<g id="n53-name"><text class="t rd" x="1350" y="645">yayoi</text></g>
<g id="n54"><text class="t num" x="1173" y="715">00054</text><use href="#lnk" x="1166" y="731" width="24" height="21"/></g>
<g id="n54-name"><text class="t tl" x="1350" y="725">akira</text></g>
<g id="n54-desc"><text class="t desc" x="1504" y="725">sadness, solitude</text></g>
<g id="n55"><text class="t num" x="1173" y="795">00055</text><use href="#lnk" x="1166" y="811" width="24" height="21"/></g>
<g id="n55-name"><text class="t gd" x="1350" y="805">ranka</text></g>
<g id="n55-desc"><text class="t desc" x="1514" y="805">video ideas</text></g>
<g id="n56"><text class="t num" x="1183" y="885">00056</text><use href="#lnk" x="1176" y="901" width="24" height="21"/></g>
<g id="n56-name"><text class="t tl" x="1370" y="889">sheryl</text></g>
<g id="n56-desc"><text class="t desc" x="1538" y="889">songbook recorded</text></g>
<g id="n57"><text class="t num" x="1173" y="963">00057</text><use href="#lnk" x="1166" y="979" width="24" height="21"/></g>
<g id="n57-name"><text class="t rd" x="1350" y="973">ginormica</text></g>
<g id="n58"><text class="t num" x="1173" y="1043">00058</text><use href="#lnk" x="1166" y="1059" width="24" height="21"/></g>
<g id="n58-name"><text class="t tl" x="1350" y="1053">hiccup</text></g>
<g id="n58-desc"><text class="t desc" x="1530" y="1053">rethinking ideas</text></g>
<g id="n59"><text class="t num" x="1173" y="1123">00059</text><use href="#lnk" x="1166" y="1139" width="24" height="21"/></g>
<g id="n59-name"><text class="t tl" x="1350" y="1133">astrid</text></g>
<g id="n59-desc"><text class="t desc" x="1514" y="1133">evaluate, ethics, judgement</text></g>
<g id="n60"><text class="t num" x="1173" y="1203">00060</text><use href="#lnk" x="1166" y="1219" width="24" height="21"/></g>
<g id="n60-name"><text class="t tl" x="1350" y="1213">ofelia</text></g>
<g id="n60-desc"><text class="t desc" x="1511" y="1213">conscience, doing the right thing</text></g>
<g id="n61"><text class="t num" x="1173" y="1283">00061</text><use href="#lnk" x="1166" y="1299" width="24" height="21"/></g>
<g id="n61-name"><text class="t tl" x="1350" y="1293">hikaru</text></g>
<g id="n61-desc"><text class="t desc" x="1520" y="1293">forethought</text></g>
<g id="n62"><text class="t num" x="1173" y="1363">00062</text><use href="#lnk" x="1166" y="1379" width="24" height="21"/></g>
<g id="n62-name"><text class="t gd" x="1350" y="1373">umi</text></g>
<g id="n62-desc"><text class="t desc" x="1492" y="1373">reflection</text></g>
<g id="n63"><text class="t num" x="1173" y="1443">00063</text><use href="#lnk" x="1166" y="1459" width="24" height="21"/></g>
<g id="n63-name"><text class="t tl" x="1350" y="1453">fuu</text></g>
<g id="n63-desc"><text class="t desc" x="1486" y="1453">momentum, energy</text></g>
<g id="n64"><text class="t num" x="1173" y="1523">00064</text><use href="#lnk" x="1166" y="1539" width="24" height="21"/></g>
<g id="n64-name"><text class="t rd" x="1350" y="1533">kiki, christina</text></g>
<g id="n65"><text class="t num" x="1173" y="1603">00065</text><use href="#lnk" x="1166" y="1619" width="24" height="21"/></g>
<g id="n65-name"><text class="t tl" x="1350" y="1613">neytiri</text></g>
<g id="n65-desc"><text class="t desc" x="1515" y="1613">forest</text></g>
<g id="n66"><text class="t num" x="1173" y="1683">00066</text><use href="#lnk" x="1166" y="1699" width="24" height="21"/></g>
<g id="n66-name"><text class="t tl" x="1350" y="1693">madoka</text></g>
<g id="n66-desc"><text class="t desc" x="1543" y="1693">agency</text></g>
<g id="n67"><text class="t num" x="1173" y="1763">00067</text><use href="#lnk" x="1166" y="1779" width="24" height="21"/></g>
<g id="n67-name"><text class="t tl" x="1350" y="1773">homura</text></g>
<g id="n67-desc"><text class="t desc" x="1538" y="1773">time</text></g>
<g id="n68"><text class="t num" x="1173" y="1843">00068</text><use href="#lnk" x="1166" y="1859" width="24" height="21"/></g>
<g id="n68-name"><text class="t rd" x="1350" y="1853">hermione</text></g>
<g id="n69"><text class="t num" x="1173" y="1923">00069</text><use href="#lnk" x="1166" y="1939" width="24" height="21"/></g>
<g id="n69-name"><text class="t tl" x="1350" y="1933">maleficent</text></g>
<g id="n69-desc"><text class="t desc" x="1568" y="1933">sleep, circadian</text></g>
<g id="n70"><text class="t num" x="1173" y="2003">00070</text><use href="#lnk" x="1166" y="2019" width="24" height="21"/></g>
<g id="n70-name"><text class="t tl" x="1350" y="2013">noriko</text></g>
<g id="n70-desc"><text class="t desc" x="1519" y="2013">japan</text></g>
<g id="n71"><text class="t num" x="1173" y="2083">00071</text><use href="#lnk" x="1166" y="2099" width="24" height="21"/></g>
<g id="n71-name"><text class="t rd" x="1350" y="2093">kazumi</text></g>
<g id="n72"><text class="t num" x="1173" y="2163">00072</text><use href="#lnk" x="1166" y="2179" width="24" height="21"/></g>
<g id="n72-name"><text class="t tl" x="1350" y="2173">jung–freud</text></g>
<g id="n72-desc"><text class="t desc" x="1572" y="2173">scarcity, loss</text></g>
<g id="n73"><text class="t num" x="1173" y="2243">00073</text><use href="#lnk" x="1166" y="2259" width="24" height="21"/></g>
<g id="n73-name"><text class="t tl" x="1350" y="2253">coach</text></g>
<g id="n73-desc"><text class="t desc" x="1524" y="2253">incremental progress, practice</text></g>
<g id="n74"><text class="t num" x="1173" y="2323">00074</text><use href="#lnk" x="1166" y="2339" width="24" height="21"/></g>
<g id="n74-name"><text class="t gd" x="1350" y="2333">nono</text></g>
<g id="n74-desc"><text class="t desc" x="1510" y="2333">trust, belief</text></g>
<g id="n75"><text class="t num" x="1183" y="2413">00075</text><use href="#lnk" x="1176" y="2429" width="24" height="21"/></g>
<g id="n75-name"><text class="t tl" x="1370" y="2417">shizuka</text></g>
<g id="n75-desc"><text class="t desc" x="1558" y="2417">books, writing, publishing</text></g>
<g id="n76"><text class="t num" x="1173" y="2491">00076</text><use href="#lnk" x="1166" y="2507" width="24" height="21"/></g>
<g id="n76-name"><text class="t tl" x="1350" y="2501">taeko</text></g>
<g id="n76-desc"><text class="t desc" x="1514" y="2501">equanimity, quiet contemplation</text></g>
<g id="n77"><text class="t num" x="1173" y="2571">00077</text><use href="#lnk" x="1166" y="2587" width="24" height="21"/></g>
<g id="n77-name"><text class="t tl" x="1350" y="2581">kim</text></g>
<g id="n77-desc"><text class="t desc" x="1489" y="2581">hidden economy, addiction, hierarchy</text></g>
<g id="n78"><text class="t num" x="1173" y="2651">00078</text><use href="#lnk" x="1166" y="2667" width="24" height="21"/></g>
<g id="n78-name"><text class="t tl" x="1350" y="2661">clarissa</text></g>
<g id="n78-desc"><text class="t desc" x="1538" y="2661">health</text></g>
<g id="n79"><text class="t num" x="1173" y="2731">00079</text><use href="#lnk" x="1166" y="2747" width="24" height="21"/></g>
<g id="n79-name"><text class="t tl" x="1350" y="2741">kit</text></g>
<g id="n79-desc"><text class="t desc" x="1476" y="2741">story ideas — meta</text></g>
<g id="n80"><text class="t num" x="1173" y="2811">00080</text><use href="#lnk" x="1166" y="2827" width="24" height="21"/></g>
<g id="n80-name"><text class="t tl" x="1350" y="2821">kat</text></g>
<g id="n80-desc"><text class="t desc" x="1486" y="2821">story ideas — serious, communication</text></g>
<g id="n81"><text class="t num" x="1173" y="2891">00081</text><use href="#lnk" x="1166" y="2907" width="24" height="21"/></g>
<g id="n81-name"><text class="t gd" x="1350" y="2901">cam</text></g>
<g id="n81-desc"><text class="t desc" x="1502" y="2901">story ideas — comic</text></g>
<g id="n82"><text class="t num" x="1173" y="2971">00082</text><use href="#lnk" x="1166" y="2987" width="24" height="21"/></g>
<g id="n82-name"><text class="t tl" x="1350" y="2981">con</text></g>
<g id="n82-desc"><text class="t desc" x="1496" y="2981">story ideas — magic</text></g>
<g id="n83"><text class="t num" x="1173" y="3051">00083</text><use href="#lnk" x="1166" y="3067" width="24" height="21"/></g>
<g id="n83-name"><text class="t gd" x="1350" y="3061">kay</text></g>
<g id="n83-desc"><text class="t desc" x="1490" y="3061">story ideas — seeds</text></g>
<g id="n84"><text class="t num" x="1173" y="3131">00084</text><use href="#lnk" x="1166" y="3147" width="24" height="21"/></g>
<g id="n84-name"><text class="t tl" x="1350" y="3141">asumi</text></g>
<g id="n84-desc"><text class="t desc" x="1520" y="3141">observant, attention, focus</text></g>
<g id="n85"><text class="t num" x="1173" y="3211">00085</text><use href="#lnk" x="1166" y="3227" width="24" height="21"/></g>
<g id="n85-name"><text class="t tl" x="1350" y="3221">kaori, charlie, ctholly</text></g>
<g id="n85-desc"><text class="t desc" x="1684" y="3221">decay and renewal</text></g>
<g id="n86"><text class="t num" x="1173" y="3291">00086</text><use href="#lnk" x="1166" y="3307" width="24" height="21"/></g>
<g id="n86-name"><text class="t gd" x="1350" y="3301">den lille havfrue</text></g>
<g id="n86-desc"><text class="t desc" x="1630" y="3301">unrequited, imbalance</text></g>
<g id="n87"><text class="t num" x="1173" y="3371">00087</text><use href="#lnk" x="1166" y="3387" width="24" height="21"/></g>
<g id="n87-name"><text class="t tl" x="1350" y="3381">den lille pige med svovlstikkerne</text></g>
<g id="n87-desc"><text class="t desc" x="1822" y="3381">food and shelter</text></g>
<g id="n88"><text class="t num" x="1173" y="3451">00088</text><use href="#lnk" x="1166" y="3467" width="24" height="21"/></g>
<g id="n88-name"><text class="t gd" x="1350" y="3461">san</text></g>
<g id="n88-desc"><text class="t desc" x="1492" y="3461">trends</text></g>
<g id="n89"><text class="t num" x="1173" y="3531">00089</text><use href="#lnk" x="1166" y="3547" width="24" height="21"/></g>
<g id="n89-name"><text class="t gd" x="1350" y="3541">chihiro</text></g>
<g id="n89-desc"><text class="t desc" x="1526" y="3541">myth, story, narrative</text></g>
<g id="n90"><text class="t num" x="1173" y="3611">00090</text><use href="#lnk" x="1166" y="3627" width="24" height="21"/></g>
<g id="n90-name"><text class="t tl" x="1350" y="3621">lola</text></g>
<g id="n90-desc"><text class="t desc" x="1490" y="3621">brighton</text></g>
<g id="n91"><text class="t num" x="1173" y="3691">00091</text><use href="#lnk" x="1166" y="3707" width="24" height="21"/></g>
<g id="n91-name"><text class="t gd" x="1350" y="3701">aya</text></g>
<g id="n91-desc"><text class="t desc" x="1492" y="3701">play</text></g>
<g id="n92"><text class="t num" x="1183" y="3781">00092</text><use href="#lnk" x="1176" y="3797" width="24" height="21"/></g>
<g id="n92-name"><text class="t tl" x="1370" y="3785">eve</text></g>
<g id="n92-desc"><text class="t desc" x="1512" y="3785">evolution</text></g>
<g id="n93"><text class="t num" x="1183" y="3869">00093</text><use href="#lnk" x="1176" y="3885" width="24" height="21"/></g>
<g id="n93-name"><text class="t tl" x="1370" y="3873">nausicaä</text></g>
<g id="n93-desc"><text class="t desc" x="1574" y="3873">diverse, adapt, appropriate, thrive</text></g>
<g id="n94"><text class="t num" x="1183" y="3957">00094</text><use href="#lnk" x="1176" y="3973" width="24" height="21"/></g>
<g id="n94-name"><text class="t tl" x="1370" y="3961">le petit prince</text></g>
<g id="n94-desc"><text class="t desc" x="1626" y="3961">microbiome, dysbiosis</text></g>
<g id="n95"><text class="t num" x="1173" y="4035">00095</text><use href="#lnk" x="1166" y="4051" width="24" height="21"/></g>
<g id="n95-name"><text class="t rd" x="1350" y="4045">wyoming</text></g>
<g id="n95-desc"><text class="t desc" x="1556" y="4045">names</text></g>
<g id="n96"><text class="t num" x="1173" y="4115">00096</text><use href="#lnk" x="1166" y="4131" width="24" height="21"/></g>
<g id="n96-name"><text class="t tl" x="1350" y="4125">kathy and ruth</text></g>
<g id="n96-desc"><text class="t desc" x="1615" y="4125">reality, illusion</text></g>
<g id="n97"><text class="t num" x="1183" y="4205">00097</text><use href="#lnk" x="1176" y="4221" width="24" height="21"/></g>
<g id="n97-name"><text class="t tl" x="1370" y="4209">belle</text></g>
<g id="n97-desc"><text class="t desc" x="1526" y="4209">unknown, potential, ignorance</text></g>
<g id="n98"><text class="t num" x="1173" y="4283">00098</text><use href="#lnk" x="1166" y="4299" width="24" height="21"/></g>
<g id="n98-name"><text class="t rd" x="1350" y="4293">milena</text></g>
<g id="n99"><text class="t num" x="1183" y="4373">00099</text><use href="#lnk" x="1176" y="4389" width="24" height="21"/></g>
<g id="n99-name"><text class="t tl" x="1370" y="4377">nell</text></g>
<g id="n99-desc"><text class="t desc" x="1511" y="4377">stochastic, probability, chance, luck</text></g>

<g id="r100"><text class="t num" x="1215" y="4490">00100</text></g>
<g id="r100-name"><text class="t tl" x="1393" y="4490">luna</text></g>
<g id="r100-desc"><text class="t desc" x="1541" y="4490">retrieval system</text></g>
<g id="license"><text class="t" x="1215" y="4580" style="fill:#3c4d52">cc by–nc–sa license</text></g>

<g id="b100"><text class="t num" x="448" y="4636">00100</text></g>
<g id="b-access">
<text class="t desc" x="625" y="4466">accessibility: use <tspan class="dim">mindnode</tspan> (accessible) or</text>
<text class="t desc" x="625" y="4500"><tspan class="dim">ithoughts</tspan> (not accessible) to view full dynamic</text>
<text class="t desc" x="625" y="4534">itmz files from <tspan class="dim">github</tspan></text>
<text class="t desc" x="625" y="4567">these static previews are not accessible</text>
</g>
<g id="b-fermium"><text class="t desc" x="625" y="4625">fermium Fm (fermi)</text></g>
<g id="b-luna"><text class="t desc" x="625" y="4715">luna</text></g>
<g id="b-talking"><text class="t desc" x="773" y="4686">talking with a robot cat</text></g>
<g id="b-chako"><text class="t desc" x="773" y="4746">chako the cat robot</text></g>
<g id="b-aoo"><text class="t desc" x="625" y="4807">AOO</text></g>
</svg>
